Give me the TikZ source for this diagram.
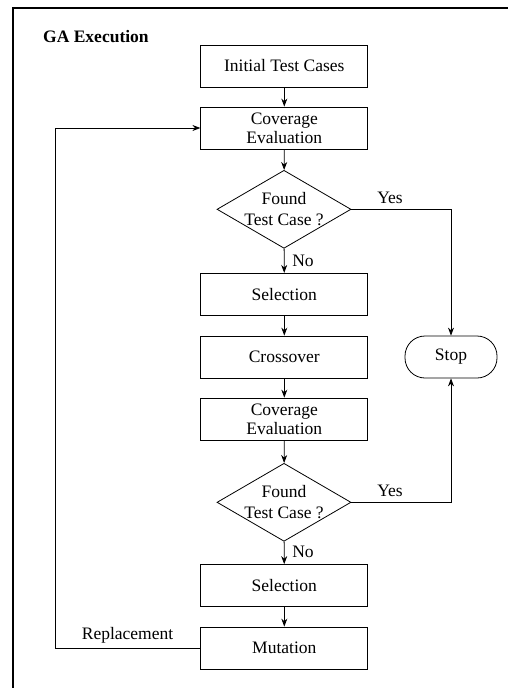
\documentclass[tikz,border=0pt]{standalone}
\usepackage{fontspec}
\setmainfont{Liberation Serif}
\usetikzlibrary{shapes.geometric,arrows.meta}
\begin{document}
\begin{tikzpicture}[x=1pt,y=-1pt,
  every node/.style={font=\fontsize{17.5}{20}\selectfont},
  procbox/.style={draw,line width=0.8pt,minimum width=167pt,minimum height=42pt,inner sep=0pt,align=center},
  decbox/.style={draw,line width=0.8pt,diamond,minimum width=134pt,minimum height=78pt,inner sep=0pt},
  termbox/.style={draw,line width=0.8pt,rounded corners=20pt,minimum width=92pt,minimum height=42pt,inner sep=0pt},
  flow/.style={line width=0.8pt,-{Stealth[length=8pt,width=6pt]}},
  plain/.style={line width=0.8pt},
  lbl/.style={inner sep=0pt}]
\useasboundingbox (0,0) rectangle (508,688);
\draw[line width=1.8pt] (508,8) -- (13,8) -- (13,688);
\node[lbl,anchor=west,font=\fontsize{17.5}{20}\selectfont\bfseries] (title) at (43,37) {GA Execution};
\node[procbox] (init) at (284.3,66) {Initial Test Cases};
\node[procbox] (cov1) at (284.3,128) {Coverage\\[-1pt]Evaluation};
\node[decbox,label={[align=center,font=\fontsize{17.5}{21}\selectfont]center:Found\\Test Case ?}] (d1) at (284,209.3) {};
\node[procbox] (sel1) at (284.3,294.3) {Selection};
\node[procbox] (cross) at (284.3,357) {Crossover};
\node[termbox] (stop) at (451,357) {Stop};
\node[procbox] (cov2) at (284.3,419) {Coverage\\[-1pt]Evaluation};
\node[decbox,label={[align=center,font=\fontsize{17.5}{21}\selectfont]center:Found\\Test Case ?}] (d2) at (284,502.3) {};
\node[procbox] (sel2) at (284.3,585.5) {Selection};
\node[procbox] (mut) at (284.3,648) {Mutation};
\coordinate (fb1) at (55,648);
\coordinate (fb2) at (55,128);
\draw[flow] (init) -- (cov1);
\draw[flow] (cov1) -- (d1);
\draw[flow] (d1) -- (sel1);
\draw[flow] (sel1) -- (cross);
\draw[flow] (cross) -- (cov2);
\draw[flow] (cov2) -- (d2);
\draw[flow] (d2) -- (sel2);
\draw[flow] (sel2) -- (mut);
\draw[flow] (d1.east) -| (stop.north);
\draw[flow] (d2.east) -| (stop.south);
\draw[flow] (mut.west) -- (fb1) -- (fb2) -- (cov1.west);
\node[lbl] (no1) at (303,260.7) {No};
\node[lbl] (no2) at (303,551.7) {No};
\node[lbl] (yes1) at (390,198) {Yes};
\node[lbl] (yes2) at (390,490.7) {Yes};
\node[lbl] (repl) at (127.5,635) {Replacement};
\end{tikzpicture}
\end{document}
